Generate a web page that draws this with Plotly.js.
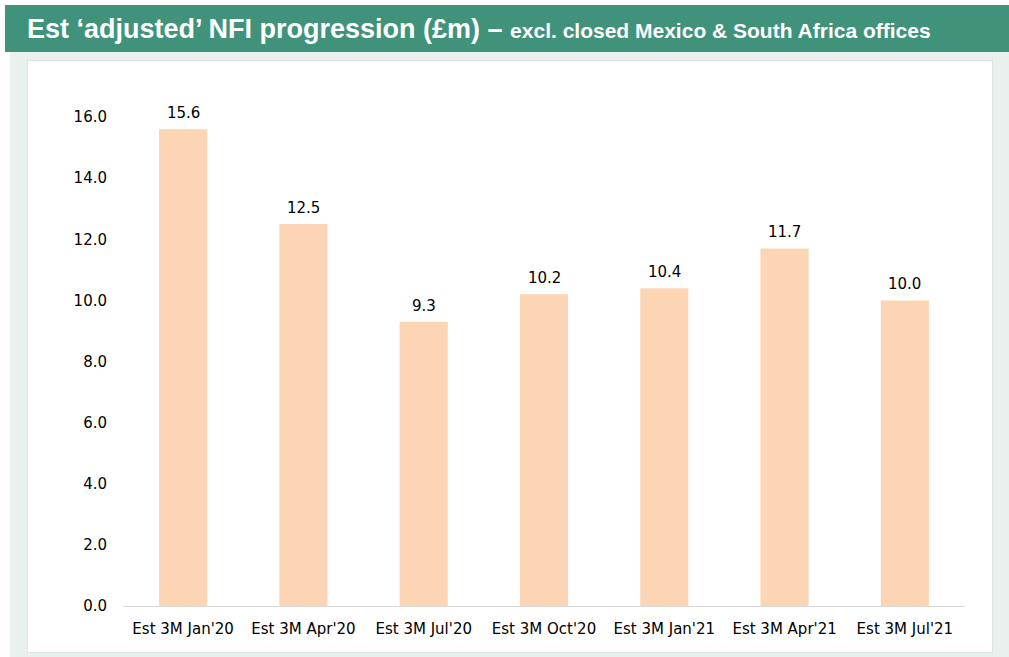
<!DOCTYPE html>
<html>
<head>
<meta charset="utf-8">
<script src="https://cdn.plot.ly/plotly-3.0.1.min.js"></script>
<style>
html,body{margin:0;padding:0;background:#ffffff;}
#wrap{position:relative;width:1009px;height:657px;overflow:hidden;}
#bg{position:absolute;left:10px;top:52px;width:999px;height:605px;background:#e9f1ee;}
#banner{position:absolute;left:5px;top:5px;width:1004px;height:47px;background:#40937a;}
#panel{position:absolute;left:27px;top:60px;width:964px;height:591px;background:#ffffff;border:1px solid #dde3e0;}
#chart{position:absolute;left:0;top:0;width:1009px;height:657px;}
</style>
</head>
<body>
<div id="wrap">
<div id="bg"></div>
<div id="banner"></div>
<div id="panel"></div>
<div id="chart"></div>
</div>
<script>
const categories = ["Est 3M Jan'20","Est 3M Apr'20","Est 3M Jul'20","Est 3M Oct'20","Est 3M Jan'21","Est 3M Apr'21","Est 3M Jul'21"];
const nfiValues = [15.6, 12.5, 9.3, 10.2, 10.4, 11.7, 10.0];
const yTickValues = [0, 2, 4, 6, 8, 10, 12, 14, 16];

const labelFont = {family: 'DejaVu Sans, Verdana, sans-serif', size: 15, color: '#000000'};

const trace = {
  type: 'bar',
  x: categories,
  y: nfiValues,
  marker: {color: '#fcd5b4'},
  width: 0.4,
  hoverinfo: 'x+y'
};

const annotations = categories.map((c, i) => ({
  x: c, y: nfiValues[i], xref: 'x', yref: 'y',
  text: nfiValues[i].toFixed(1),
  showarrow: false, yanchor: 'middle', yshift: 16,
  font: labelFont
}));

const layout = {
  width: 1009,
  height: 657,
  paper_bgcolor: 'rgba(0,0,0,0)',
  plot_bgcolor: 'rgba(0,0,0,0)',
  margin: {l: 123, r: 44, t: 117, b: 51},
  showlegend: false,
  annotations: annotations,
  title: {
    text: "Est ‘adjusted’ NFI progression (£m) – <span style='font-size:21px'>excl. closed Mexico &amp; South Africa offices</span>",
    font: {family: 'Liberation Sans, Arial, sans-serif', size: 27, color: '#ffffff', weight: 'bold'},
    xref: 'container', yref: 'container',
    x: 27/1009, xanchor: 'left',
    y: 1 - 29/657, yanchor: 'middle'
  },
  xaxis: {
    showline: true, linecolor: '#d9d9d9', linewidth: 1,
    ticks: 'outside', ticklen: 9, tickcolor: 'rgba(0,0,0,0)',
    tickfont: labelFont,
    showgrid: false, zeroline: false
  },
  yaxis: {
    range: [0, 16],
    tickvals: yTickValues,
    tickformat: '.1f',
    showline: false, showgrid: false, zeroline: false,
    ticks: 'outside', ticklen: 12, tickcolor: 'rgba(0,0,0,0)',
    tickfont: labelFont
  },
  bargap: 0.6
};

Plotly.newPlot('chart', [trace], layout, {displayModeBar: false, staticPlot: true});
</script>
</body>
</html>
